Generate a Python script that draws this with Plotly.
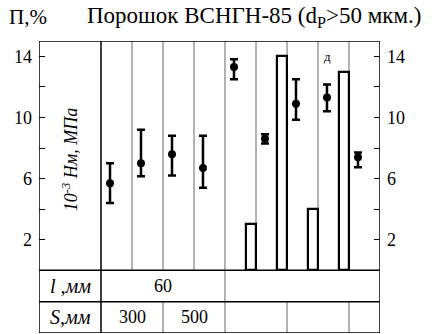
import plotly.graph_objects as go

# Measured values per column (9 test columns)
columns = [0, 1, 2, 3, 4, 5, 6, 7, 8]
values = [5.7, 7.0, 7.6, 6.7, 13.3, 8.6, 10.9, 11.3, 7.4]
err_plus = [1.3, 2.2, 1.2, 2.1, 0.5, 0.3, 1.6, 0.85, 0.3]
err_minus = [1.3, 0.85, 1.4, 1.3, 0.8, 0.3, 1.05, 0.9, 0.65]

# Porosity bars
bar_columns = [4, 5, 6, 7]
bar_values = [3, 14, 4, 13]

major_ticks = [2, 6, 10, 14]
minor_ticks = [4, 8, 12]

FONT = "Liberation Serif"
Y_MIN, Y_MAX = -4.1, 15
ROW_SPLIT = -2.05
X_MIN, X_MAX = -2, 9

fig = go.Figure()

fig.add_trace(go.Bar(
    x=[c + 0.835 for c in bar_columns], y=bar_values, width=0.33,
    marker=dict(color="white", line=dict(color="black", width=2.2)),
    showlegend=False,
))

fig.add_trace(go.Scatter(
    x=[c + 0.29 for c in columns], y=values, mode="markers",
    marker=dict(color="black", size=8),
    error_y=dict(type="data", symmetric=False, array=err_plus, arrayminus=err_minus,
                 color="black", thickness=2.5, width=4),
    showlegend=False,
))

# invisible trace to activate the right-hand axis
fig.add_trace(go.Scatter(x=[X_MIN], y=[0], yaxis="y2", mode="markers",
                         marker=dict(opacity=0), showlegend=False, hoverinfo="skip"))

shapes = []
grid = dict(color="#666", width=1)
frame = dict(color="black", width=1.5)
# column separators in the chart area
for xv in [1, 2, 3, 5, 6, 7, 8]:
    shapes.append(dict(type="line", x0=xv, x1=xv, y0=0, y1=Y_MAX, line=grid, layer="below"))
# separators in the S row
for xv in [2, 6, 8]:
    shapes.append(dict(type="line", x0=xv, x1=xv, y0=Y_MIN, y1=ROW_SPLIT, line=grid, layer="below"))
# full-height separators
shapes.append(dict(type="line", x0=0, x1=0, y0=Y_MIN, y1=Y_MAX, line=frame))
shapes.append(dict(type="line", x0=4, x1=4, y0=Y_MIN, y1=Y_MAX, line=grid))
# horizontal rules
for yv in [0, ROW_SPLIT]:
    shapes.append(dict(type="line", x0=X_MIN, x1=X_MAX, y0=yv, y1=yv, line=frame))
# outer frame
shapes.append(dict(type="rect", x0=X_MIN, x1=X_MAX, y0=Y_MIN, y1=Y_MAX, line=frame))

ann_font = dict(family=FONT, size=18, color="black")
annotations = [
    dict(x=-1, y=7.2, text="<i>10<sup>-3</sup> Нм, МПа</i>", textangle=-90,
         showarrow=False, font=ann_font),
    dict(x=-1, y=-1.02, text="<i>l ,мм</i>", showarrow=False,
         font=dict(family=FONT, size=20, color="black")),
    dict(x=-1, y=-3.07, text="<i>S,мм</i>", showarrow=False,
         font=dict(family=FONT, size=20, color="black")),
    dict(x=2, y=-1.02, text="60", showarrow=False, font=ann_font),
    dict(x=1, y=-3.07, text="300", showarrow=False, font=ann_font),
    dict(x=3, y=-3.07, text="500", showarrow=False, font=ann_font),
    dict(x=7.3, y=14.0, text="д", showarrow=False, font=dict(family=FONT, size=13, color="black")),
    dict(xref="paper", yref="paper", x=-0.094, y=1.083, xanchor="left", yanchor="middle",
         text="П,%", showarrow=False, font=dict(family=FONT, size=21, color="black")),
    dict(xref="paper", yref="paper", x=0.135, y=1.083, xanchor="left", yanchor="middle",
         text="Порошок ВСНГН-85 (d<sub>P</sub>>50 мкм.)", showarrow=False,
         font=dict(family=FONT, size=23, color="black")),
]

axis_common = dict(range=[Y_MIN, Y_MAX], tickmode="array", tickvals=major_ticks,
                   ticks="inside", ticklen=6, tickwidth=1, tickcolor="black",
                   minor=dict(tickmode="array", tickvals=minor_ticks, ticks="inside",
                              ticklen=6, tickwidth=1, tickcolor="black", showgrid=False),
                   showgrid=False, zeroline=False, showline=False,
                   tickfont=dict(family=FONT, size=18, color="black"),
                   ticklabelstandoff=6)

fig.update_layout(
    width=432, height=334,
    margin=dict(l=39, r=52, t=41, b=1),
    paper_bgcolor="white", plot_bgcolor="white",
    xaxis=dict(range=[X_MIN, X_MAX], visible=False),
    yaxis=dict(side="left", **axis_common),
    yaxis2=dict(side="right", overlaying="y", **axis_common),
    shapes=shapes, annotations=annotations,
    bargap=0,
)

fig.write_html("out.html")
